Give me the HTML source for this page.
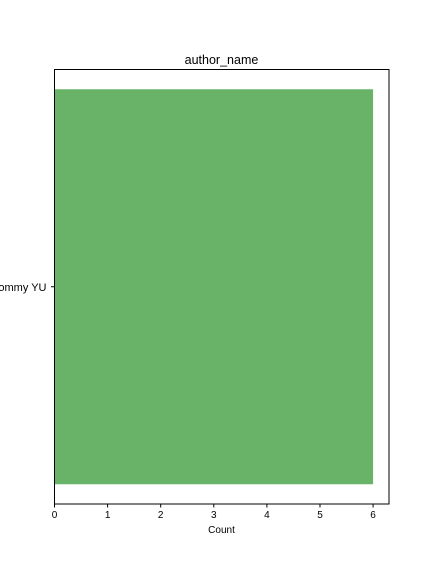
<!DOCTYPE html>
<html><head><meta charset="utf-8"><style>
body{margin:0;background:#fff;}
svg{display:block;font-family:"Liberation Sans","DejaVu Sans",sans-serif;}
</style></head><body>
<svg id="chart" width="432" height="576" viewBox="0 0 432 576">
<text x="221.5" y="64" font-size="12.5" text-anchor="middle" fill="#000">author_name</text>
<g id="bars"></g>
<g id="xticks"></g>
<g id="yticks"></g>
<rect x="54.5" y="69.5" width="334.5" height="434.5" fill="none" stroke="#000" stroke-width="1"/>
<text x="221.5" y="533" font-size="10" text-anchor="middle" fill="#000">Count</text>
</svg>
<script>
const categories = ["Tommy YU"];
const counts = [6];
const xTickLabels = [0,1,2,3,4,5,6];

const L=54.5,R=389,T=69.5,B=504;
const xmax=6.3;
function xs(v){return L+(v/xmax)*(R-L);}
const n=categories.length, pad=0.44;
function ys(i){return T+((i+pad)/(n-1+2*pad))*(B-T);}
const bandPx=(0.8/(n-1+2*pad))*(B-T);
const NS="http://www.w3.org/2000/svg";
const bars=document.getElementById('bars');
counts.forEach((c,i)=>{
  const r=document.createElementNS(NS,'rect');
  
  
  r.setAttribute('x',xs(0));r.setAttribute('width',xs(c)-xs(0));
  r.setAttribute('y',ys(i)-bandPx/2);r.setAttribute('height',bandPx);
  r.setAttribute('fill','#68b368');
  bars.appendChild(r);
});
const xt=document.getElementById('xticks');
xTickLabels.forEach(v=>{
  const l=document.createElementNS(NS,'line');
  
  
  l.setAttribute('x1',xs(v));l.setAttribute('x2',xs(v));l.setAttribute('y1',B);l.setAttribute('y2',B+3.5);
  l.setAttribute('stroke','#000');
  xt.appendChild(l);
  const t=document.createElementNS(NS,'text');
  
  
  t.setAttribute('x',xs(v));t.setAttribute('y',B+14);t.setAttribute('font-size','10');t.setAttribute('text-anchor','middle');
  t.textContent=v;
  xt.appendChild(t);
});
const yt=document.getElementById('yticks');
categories.forEach((c,i)=>{
  const l=document.createElementNS(NS,'line');
  
  
  l.setAttribute('x1',L-3.5);l.setAttribute('x2',L);l.setAttribute('y1',ys(i));l.setAttribute('y2',ys(i));
  l.setAttribute('stroke','#000');
  yt.appendChild(l);
  const t=document.createElementNS(NS,'text');
  
  
  t.setAttribute('x',L-8);t.setAttribute('y',ys(i)+4);t.setAttribute('font-size','11');t.setAttribute('text-anchor','end');
  t.textContent=c;
  yt.appendChild(t);
});
</script>
</body></html>
